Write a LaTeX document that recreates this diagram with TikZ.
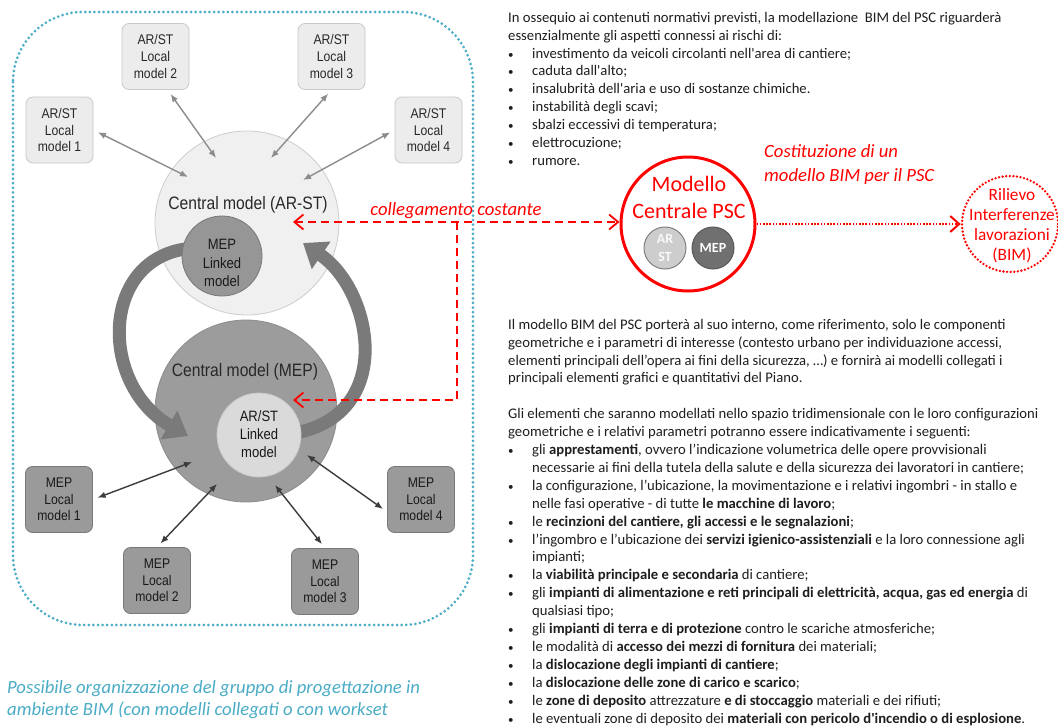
\documentclass[tikz,border=0pt]{standalone}
\usepackage{fontspec}
\usepackage{array}
\newfontfamily\calfont{Carlito}
\newfontfamily\arialn{Liberation Sans}[FakeStretch=0.87]
\usetikzlibrary{arrows.meta}
\definecolor{aqua}{RGB}{75,172,198}
\definecolor{psred}{RGB}{255,0,0}
\definecolor{arfill}{RGB}{236,236,236}
\definecolor{arbord}{RGB}{200,200,200}
\definecolor{artext}{RGB}{40,40,40}
\definecolor{arline}{RGB}{140,140,140}
\definecolor{mepfill}{RGB}{154,154,154}
\definecolor{mepbord}{RGB}{120,120,120}
\definecolor{meptext}{RGB}{25,25,25}
\definecolor{mepline}{RGB}{60,60,60}
\definecolor{carfill}{RGB}{240,240,240}
\definecolor{carbord}{RGB}{205,205,205}
\definecolor{cmepfill}{RGB}{156,156,156}
\definecolor{cmepbord}{RGB}{140,140,140}
\definecolor{mlfill}{RGB}{150,150,150}
\definecolor{alfill}{RGB}{218,218,218}
\definecolor{bigarr}{RGB}{122,122,122}
\definecolor{arsfill}{RGB}{205,205,205}
\definecolor{mepsfill}{RGB}{112,112,112}
\definecolor{txt}{RGB}{30,30,30}
\newcommand{\bu}{{\fontsize{11}{11}\selectfont •}}
\begin{document}
\begin{tikzpicture}[x=1pt,y=-1pt,
  redbarb/.tip={Straight Barb[length=9pt,width=15pt]},
  arbox/.style={draw=arbord, fill=arfill, rounded corners=7pt, minimum width=67pt, minimum height=66pt, inner sep=0pt, align=center, font=\arialn\fontsize{14}{16.7}\selectfont, text=artext, line width=0.8pt},
  mepbox/.style={arbox, draw=mepbord, fill=mepfill, text=meptext},
  arlink/.style={draw=arline, line width=1.4pt, {Latex[length=8pt,width=6.5pt]}-{Latex[length=8pt,width=6.5pt]}, shorten <=5pt},
  meplink/.style={arlink, draw=mepline},
  bigarrow/.style={draw=bigarr, line width=13pt, -{Triangle[length=22pt,width=32pt]}},
  lbl/.style={font=\arialn\fontsize{18}{21}\selectfont, text=artext, inner sep=0pt},
  lnk/.style={font=\arialn\fontsize{15}{18.3}\selectfont, text=meptext, align=center, inner sep=0pt},
  reddash/.style={draw=psred, line width=1.8pt, dash pattern=on 8pt off 5pt},
  redtxt/.style={text=psred, font=\calfont\itshape\fontsize{18.67}{24}\selectfont, inner sep=0pt},
  para/.style={anchor=north west, inner sep=0pt, text=txt, font=\calfont\fontsize{14.67}{17.9}\selectfont}
]
\fill[white] (0,0) rectangle (1058,728);
\useasboundingbox (0,0) rectangle (1058,728);

% blue dotted frame
\draw[aqua, line width=3pt, dash pattern=on 0pt off 4.6pt, line cap=round, rounded corners=70pt] (13,12) rectangle (473,625);

% central circles
\node[circle, draw=carbord, fill=carfill, minimum size=184pt, inner sep=0pt, line width=0.8pt] (cAR) at (247,223) {};
\node[lbl] (cARt) at (248,205) {Central model (AR-ST)};
\node[circle, draw=cmepbord, fill=cmepfill, minimum size=182pt, inner sep=0pt, line width=0.8pt] (cMEP) at (246,411) {};
\node[lbl] (cMEPt) at (245,372) {Central model (MEP)};

% big circular arrows
\coordinate (bl1) at (185,249);
\coordinate (bl2) at (188,436);
\coordinate (br1) at (300,432);
\coordinate (br2) at (303,243);
\draw[bigarrow] (bl1) .. controls (100,262) and (100,385) .. (bl2);
\draw[bigarrow] (br1) .. controls (395,410) and (372,290) .. (br2);

% linked model circles
\node[circle, draw=mepbord, fill=mlfill, minimum size=80pt, inner sep=0pt, line width=0.8pt] (mL) at (222,256) {};
\node[lnk] (mLt) at (222,263) {MEP\\Linked\\model};
\node[circle, draw=arbord, fill=alfill, minimum size=84pt, inner sep=0pt, line width=0.8pt] (aL) at (259,435) {};
\node[lnk] (aLt) at (259,434) {AR/ST\\Linked\\model};

% AR/ST local models
\node[arbox] (b1) at (59.5,130) {AR/ST\\Local\\model 1};
\node[arbox] (b2) at (155.5,56.5) {AR/ST\\Local\\model 2};
\node[arbox] (b3) at (331.5,56.5) {AR/ST\\Local\\model 3};
\node[arbox] (b4) at (428.5,130) {AR/ST\\Local\\model 4};
\coordinate (aa1) at (188,177);
\coordinate (aa2) at (216,158);
\coordinate (aa3) at (271,158);
\coordinate (aa4) at (303,180);
\draw[arlink] (b1.east) -- (aa1);
\draw[arlink] (b2.-70) -- (aa2);
\draw[arlink] (b3.south) -- (aa3);
\draw[arlink] (b4.west) -- (aa4);

% MEP local models
\node[mepbox] (m1) at (59,499.5) {MEP\\Local\\model 1};
\node[mepbox] (m2) at (157,580.5) {MEP\\Local\\model 2};
\node[mepbox] (m3) at (325,581.5) {MEP\\Local\\model 3};
\node[mepbox] (m4) at (421,499.5) {MEP\\Local\\model 4};
\coordinate (ma1) at (192,462);
\coordinate (ma2) at (217,484);
\coordinate (ma3) at (275,485);
\coordinate (ma4) at (307,455);
\draw[meplink] (m1.east) -- (ma1);
\draw[meplink] (m2.north) -- (ma2);
\draw[meplink] (m3.north) -- (ma3);
\draw[meplink] (m4.200) -- (ma4);

% PSC central model
\node[circle, draw=psred, line width=3pt, minimum size=134pt, inner sep=0pt] (psc) at (688,224) {};
\node[text=psred, font=\calfont\fontsize{22}{27}\selectfont, align=center, inner sep=0pt] (psct) at (689,197) {Modello\\Centrale PSC};
\node[circle, draw=gray, fill=arsfill, minimum size=42pt, inner sep=0pt, line width=1pt, text=white!95!gray, align=center, font=\calfont\bfseries\fontsize{14}{18}\selectfont] (ars) at (665,248) {AR\\ST};
\node[circle, draw=mepsfill!80!black, fill=mepsfill, minimum size=42pt, inner sep=0pt, line width=1pt, text=white, font=\calfont\bfseries\fontsize{14}{18}\selectfont] (mps) at (713,248) {MEP};

% Rilievo
\node[circle, draw=psred, line width=2.6pt, dash pattern=on 0pt off 3.6pt, line cap=round, minimum size=96pt, inner sep=0pt] (ril) at (1010,224) {};
\node[text=psred, font=\calfont\fontsize{17.3}{20}\selectfont, align=center, inner sep=0pt] (rilt) at (1012,226) {Rilievo\\Interferenze\\lavorazioni\\(BIM)};
\draw[psred, line width=2pt, dash pattern=on 1.6pt off 1.6pt, -{Straight Barb[length=9pt,width=16pt]}] (psc.east) -- (ril.west);

% red dashed links
\coordinate (r1) at (293,222);
\coordinate (r2) at (457,222);
\coordinate (r3) at (457,400);
\coordinate (r4) at (293,400);
\draw[reddash, redbarb-redbarb] (r1) -- (psc.west |- r1);
\draw[reddash, -redbarb] (r2) -- (r3) -- (r4);
\node[redtxt] (coll) at (456,211) {collegamento costante};
\node[redtxt, anchor=west, align=left] (cost) at (764,165) {Costituzione di un\\modello BIM per il PSC};

% caption
\node[anchor=north west, inner sep=0pt, align=left, text=aqua, font=\calfont\itshape\fontsize{18.67}{22}\selectfont] (cap) at (7,680) {Possibile organizzazione del gruppo di progettazione in\\ambiente BIM (con modelli collegati o con workset};

% right text block 1
\node[para] (ptop) at (508,9.5) {\begin{tabular}{@{}p{24pt}@{}l@{}}
\multicolumn{2}{@{}l@{}}{In ossequio ai contenuti normativi previsti, la modellazione~ BIM del PSC riguarderà}\\
\multicolumn{2}{@{}l@{}}{essenzialmente gli aspetti connessi ai rischi di:}\\
\bu& investimento da veicoli circolanti nell'area di cantiere;\\
\bu& caduta dall'alto;\\
\bu& insalubrità dell'aria e uso di sostanze chimiche.\\
\bu& instabilità degli scavi;\\
\bu& sbalzi eccessivi di temperatura;\\
\bu& elettrocuzione;\\
\bu& rumore.
\end{tabular}};

% right text block 2
\node[para] (pbot) at (508,316.5) {\begin{tabular}{@{}p{24pt}@{}l@{}}
\multicolumn{2}{@{}l@{}}{Il modello BIM del PSC porterà al suo interno, come riferimento, solo le componenti}\\
\multicolumn{2}{@{}l@{}}{geometriche e i parametri di interesse (contesto urbano per individuazione accessi,}\\
\multicolumn{2}{@{}l@{}}{elementi principali dell’opera ai fini della sicurezza, …) e fornirà ai modelli collegati i}\\
\multicolumn{2}{@{}l@{}}{principali elementi grafici e quantitativi del Piano.}\\
\multicolumn{2}{@{}l@{}}{}\\
\multicolumn{2}{@{}l@{}}{Gli elementi che saranno modellati nello spazio tridimensionale con le loro configurazioni}\\
\multicolumn{2}{@{}l@{}}{geometriche e i relativi parametri potranno essere indicativamente i seguenti:}\\
\bu& gli \textbf{apprestamenti}, ovvero l’indicazione volumetrica delle opere provvisionali\\
 & necessarie ai fini della tutela della salute e della sicurezza dei lavoratori in cantiere;\\
\bu& la configurazione, l’ubicazione, la movimentazione e i relativi ingombri - in stallo e\\
 & nelle fasi operative - di tutte \textbf{le macchine di lavoro};\\
\bu& le \textbf{recinzioni del cantiere, gli accessi e le segnalazioni};\\
\bu& l’ingombro e l’ubicazione dei \textbf{servizi igienico-assistenziali} e la loro connessione agli\\
 & impianti;\\
\bu& la \textbf{viabilità principale e secondaria} di cantiere;\\
\bu& gli \textbf{impianti di alimentazione e reti principali di elettricità, acqua, gas ed energia} di\\
 & qualsiasi tipo;\\
\bu& gli \textbf{impianti di terra e di protezione} contro le scariche atmosferiche;\\
\bu& le modalità di \textbf{accesso dei mezzi di fornitura} dei materiali;\\
\bu& la \textbf{dislocazione degli impianti di cantiere};\\
\bu& la \textbf{dislocazione delle zone di carico e scarico};\\
\bu& le \textbf{zone di deposito} attrezzature \textbf{e di stoccaggio} materiali e dei rifiuti;\\
\bu& le eventuali zone di deposito dei \textbf{materiali con pericolo d'incendio o di esplosione}.
\end{tabular}};
\end{tikzpicture}
\end{document}
